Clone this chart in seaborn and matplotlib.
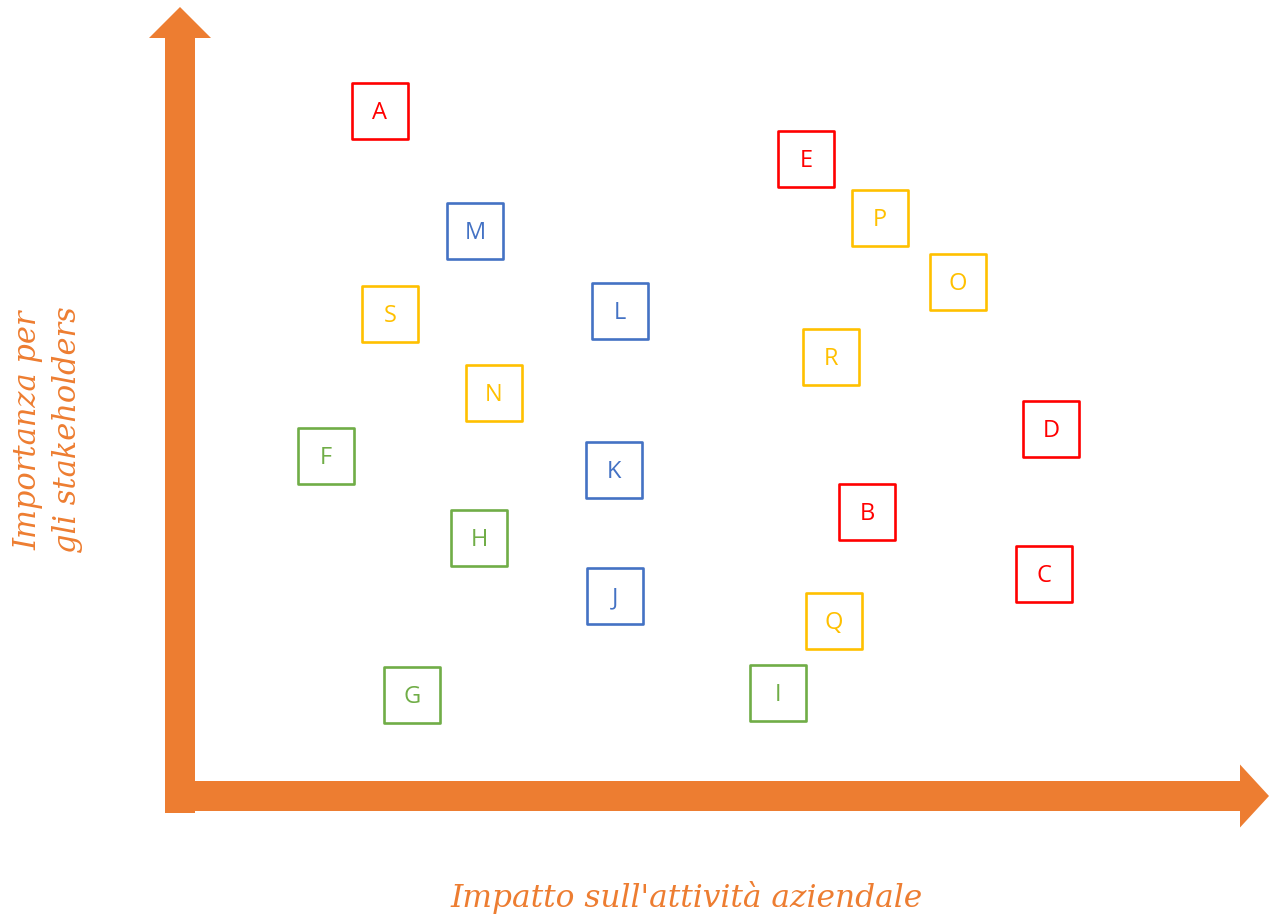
import matplotlib
matplotlib.use("Agg")
import matplotlib.pyplot as plt
import seaborn as sns
import pandas as pd

labels = ["A", "E", "P", "M", "O", "S", "L", "R", "N", "D",
          "F", "K", "B", "H", "C", "J", "Q", "G", "I"]
impatto = [380, 806, 880, 475, 958, 390, 620, 831, 494, 1051,
           326, 614, 867, 479, 1044, 615, 834, 412, 778]
importanza = [111, 159, 218, 231, 282, 314, 311, 357, 393, 429,
              456, 470, 512, 538, 574, 596, 621, 695, 693]
gruppo = ["rosso", "rosso", "giallo", "blu", "giallo", "giallo", "blu", "giallo", "giallo", "rosso",
          "verde", "blu", "rosso", "verde", "rosso", "blu", "giallo", "verde", "verde"]

palette = {"rosso": "#FF0000", "blu": "#4472C4", "giallo": "#FFC000", "verde": "#70AD47"}
orange = "#ED7D31"

df = pd.DataFrame({"label": labels, "x": impatto, "y": importanza, "g": gruppo})

sns.set_theme(style="white")
fig = plt.figure(figsize=(12.69, 9.17), dpi=100)
ax = fig.add_axes([0, 0, 1, 1])
ax.set_xlim(0, 1269)
ax.set_ylim(917, 0)
ax.axis("off")

# axes arrows
ax.arrow(180, 813, 0, -806, width=30, head_width=62, head_length=31,
         length_includes_head=True, color=orange, lw=0)
ax.arrow(165, 796, 1104, 0, width=30, head_width=63, head_length=29,
         length_includes_head=True, color=orange, lw=0)

sns.scatterplot(data=df, x="x", y="y", hue="g", palette=palette, marker="s",
                s=1640, legend=False, ax=ax)
coll = ax.collections[-1]
coll.set_edgecolors([palette[g] for g in gruppo])
coll.set_facecolors("none")
coll.set_linewidths(1.9)

for lab, x, y, g in zip(labels, impatto, importanza, gruppo):
    ax.text(x, y + 2, lab, ha="center", va="center", fontsize=17,
            family="Open Sans", color=palette[g])

ax.text(687, 897, "Impatto sull'attività aziendale", ha="center", va="center",
        fontsize=22.5, style="italic", family="DejaVu Serif", color=orange)
ax.text(48, 430, "Importanza per\ngli stakeholders", ha="center", va="center",
        rotation=90, fontsize=22, style="italic", family="DejaVu Serif",
        color=orange, multialignment="center", linespacing=1.35)

fig.savefig("out.png", dpi=100)
